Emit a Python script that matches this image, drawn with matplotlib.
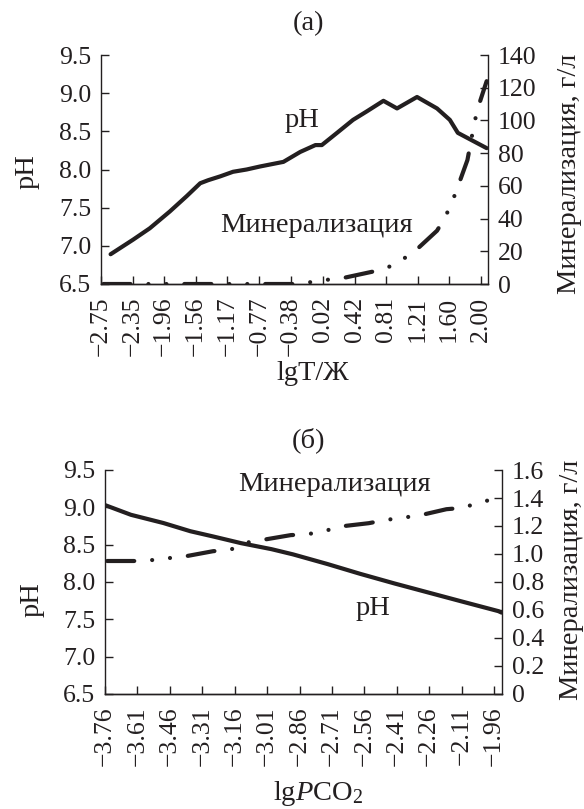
import numpy as np
import matplotlib
matplotlib.use('Agg')
import matplotlib.pyplot as plt

plt.rcParams['font.family'] = ['Liberation Serif', 'DejaVu Serif']
plt.rcParams['mathtext.fontset'] = 'custom'
plt.rcParams['mathtext.rm'] = 'Liberation Serif'
plt.rcParams['mathtext.it'] = 'Liberation Serif:italic'

INK = '#231f20'

# ---- panel (a): pH and mineralization vs lgT/Ж
a_ph_x = [-2.63, -2.35, -2.14, -1.89, -1.68, -1.51, -1.41, -1.26, -1.10, -0.93,
          -0.76, -0.47, -0.26, -0.07, 0.01, 0.20, 0.40, 0.57, 0.78, 0.95,
          1.20, 1.45, 1.61, 1.71, 2.07]
a_ph_y = [6.89, 7.08, 7.23, 7.45, 7.65, 7.82, 7.86, 7.91, 7.97, 8.00,
          8.04, 8.10, 8.23, 8.32, 8.32, 8.48, 8.65, 8.76, 8.90, 8.80,
          8.95, 8.80, 8.65, 8.48, 8.28]
a_min_x = [-2.72, -1.40, -0.72, -0.35, -0.15, 0.06, 0.26, 0.64, 0.83, 1.01,
           1.18, 1.45, 1.55, 1.64, 1.71, 1.83, 1.90, 1.95, 2.07]
a_min_y = [0, 0, 0, 0, 1, 2.5, 3.5, 7.5, 10, 14.7,
           20.4, 32.6, 40.7, 50.3, 59.5, 75.8, 94, 106, 124]
a_xticks = [-2.75, -2.35, -1.96, -1.56, -1.17, -0.77, -0.38, 0.02, 0.42, 0.81,
            1.21, 1.60, 2.00]
a_rticks = [0, 20, 40, 60, 80, 100, 120, 140]

# ---- panel (б): pH and mineralization vs lgPCO2
b_ph_x = [-3.76, -3.64, -3.49, -3.365, -3.26, -3.13, -2.99, -2.89, -2.73, -2.58,
          -2.42, -2.265, -2.11, -1.94, -1.925]
b_ph_y = [9.03, 8.90, 8.79, 8.68, 8.61, 8.52, 8.44, 8.37, 8.24, 8.11,
          7.98, 7.86, 7.74, 7.61, 7.59]
b_min_x = [-3.75, -3.61, -3.54, -3.47, -3.40, -3.26, -3.18, -3.11, -2.90, -2.83,
           -2.75, -2.68, -2.54, -2.47, -2.39, -2.32, -2.18, -2.10, -2.03, -1.925]
b_min_y = [0.95, 0.95, 0.957, 0.97, 0.98, 1.02, 1.03, 1.08, 1.135, 1.14,
           1.16, 1.195, 1.22, 1.24, 1.26, 1.27, 1.32, 1.33, 1.37, 1.40]
b_xticks = [-3.76, -3.61, -3.46, -3.31, -3.16, -3.01, -2.86, -2.71, -2.56, -2.41,
            -2.26, -2.11, -1.96]
b_rticks = [0, 0.2, 0.4, 0.6, 0.8, 1.0, 1.2, 1.4, 1.6]

ph_ticks = [6.5, 7.0, 7.5, 8.0, 8.5, 9.0, 9.5]

W, H = 584, 809
fig = plt.figure(figsize=(W / 100, H / 100), dpi=100)

dash_dot_dot = (0, (6.5, 4.3, 0.01, 4.3, 0.01, 4.3))
TICK = 18.5
LAB = 20.5


def fmt(v, nd):
    return ('%.*f' % (nd, v)).replace('-', '\u2212')


def style(ax, ax2):
    ax.spines['top'].set_visible(False)
    ax2.spines['top'].set_visible(False)
    ax.spines['right'].set_visible(False)
    ax2.spines['left'].set_visible(False)
    for a in (ax, ax2):
        for s in a.spines.values():
            s.set_linewidth(1.0)
            s.set_color(INK)
        a.tick_params(direction='in', length=5.5, width=1.0, colors=INK,
                      labelsize=TICK, pad=7)
    ax.tick_params(axis='x', pad=9)


def px_axes(l, t, r, b):
    return fig.add_axes([l / W, 1 - b / H, (r - l) / W, (b - t) / H])


# panel (a)
ax = px_axes(101, 55, 488, 284)
ax2 = ax.twinx()
ax.plot(a_ph_x, a_ph_y, color=INK, lw=3.0, solid_capstyle='round')
ax2.plot(a_min_x, a_min_y, color=INK, lw=3.0, linestyle=dash_dot_dot,
         dash_capstyle='round')
ax.set_xlim(-2.75, 2.087)
ax.set_ylim(6.5, 9.5)
ax2.set_ylim(0, 140)
ax.set_yticks(ph_ticks)
ax.set_yticklabels([fmt(v, 1) for v in ph_ticks])
ax.set_xticks(a_xticks)
ax.set_xticklabels([fmt(v, 2) for v in a_xticks], rotation=90)
ax2.set_yticks(a_rticks)
ax2.set_yticklabels([str(v) for v in a_rticks])
style(ax, ax2)
ax.text(-0.24, 8.64, 'pH', fontsize=LAB, color=INK, ha='center', va='center')
ax.text(-0.06, 7.26, 'Минерализация', fontsize=LAB, color=INK,
        ha='center', va='center')

# panel (б)
bx = px_axes(105, 470, 502, 694)
bx2 = bx.twinx()
bx.plot(b_ph_x, b_ph_y, color=INK, lw=3.0, solid_capstyle='round')
bx2.plot(b_min_x, b_min_y, color=INK, lw=3.0, linestyle=dash_dot_dot,
         dash_capstyle='round')
bx.set_xlim(-3.76, -1.923)
bx.set_ylim(6.5, 9.5)
bx2.set_ylim(0, 1.6)
bx.set_yticks(ph_ticks)
bx.set_yticklabels([fmt(v, 1) for v in ph_ticks])
bx.set_xticks(b_xticks)
bx.set_xticklabels([fmt(v, 2) for v in b_xticks], rotation=90)
bx2.set_yticks(b_rticks)
bx2.set_yticklabels(['0' if v == 0 else fmt(v, 1) for v in b_rticks])
style(bx, bx2)
bx.text(-2.70, 9.30, 'Минерализация', fontsize=LAB, color=INK,
        ha='center', va='center')
bx.text(-2.52, 7.65, 'pH', fontsize=LAB, color=INK, ha='center', va='center')


def ftext(x, y, s, rot=0):
    fig.text(x / W, 1 - y / H, s, fontsize=LAB, color=INK, ha='center',
             va='center', rotation=rot, rotation_mode='anchor')


ftext(309, 24, '(a)')
ftext(27, 172, 'pH', 90)
ftext(570, 174, 'Минерализация, г/л', 90)
ftext(313, 374, 'lgT/Ж')

ftext(309, 440, '(б)')
ftext(32, 600, 'pH', 90)
ftext(571, 580, 'Минерализация, г/л', 90)
ftext(318, 794, r'lg$\mathit{P}\mathrm{CO}_2$')

fig.savefig('out.png', dpi=100)
